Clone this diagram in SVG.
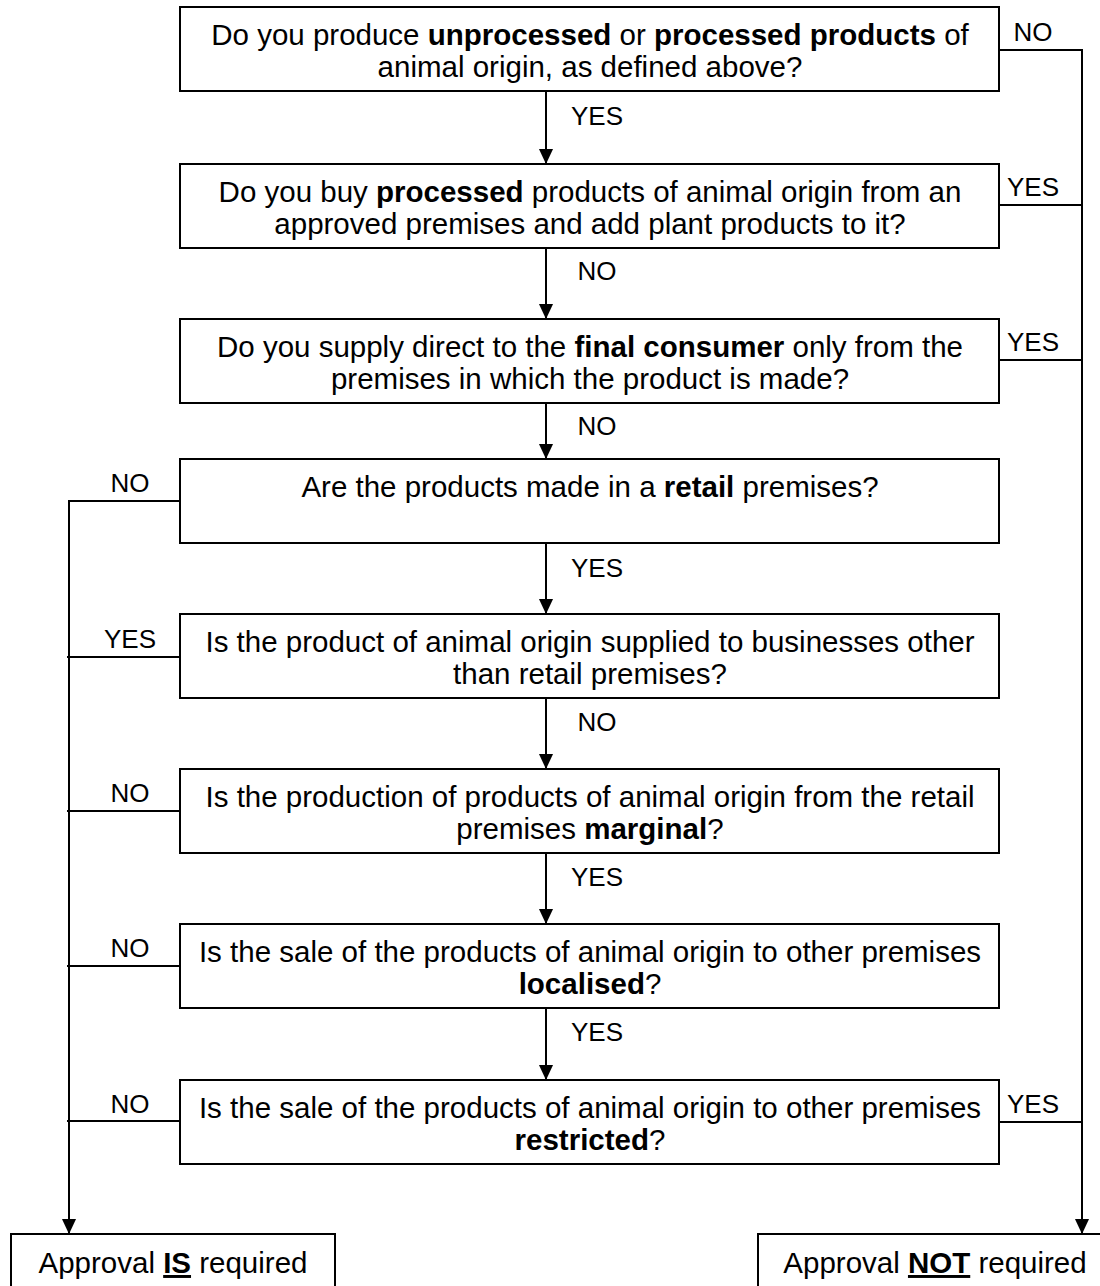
<svg xmlns="http://www.w3.org/2000/svg" width="1100" height="1286" viewBox="0 0 1100 1286">
<defs>
<style>
.box{fill:#fff;stroke:#000;stroke-width:2}
.t{font-family:"Liberation Sans",Arial,sans-serif;font-size:29.5px;fill:#000;text-anchor:middle}
.lb{font-family:"Liberation Sans",Arial,sans-serif;font-size:26px;fill:#000;text-anchor:middle}
.b{font-weight:bold}
.u{font-weight:bold;text-decoration:underline}
.c{stroke:#000;stroke-width:2;fill:none}
</style>
<marker id="ah" markerWidth="15" markerHeight="16" refX="16" refY="7.5" orient="auto" markerUnits="userSpaceOnUse" viewBox="0 0 16 15">
<path d="M0,0 L16,7.5 L0,15 Z" fill="#000"/>
</marker>
</defs>
<rect width="1100" height="1286" fill="#fff"/>

<g id="connectors">
<line class="c" x1="546" y1="91" x2="546" y2="164" marker-end="url(#ah)"/>
<line class="c" x1="546" y1="248" x2="546" y2="319" marker-end="url(#ah)"/>
<line class="c" x1="546" y1="403" x2="546" y2="459" marker-end="url(#ah)"/>
<line class="c" x1="546" y1="543" x2="546" y2="614" marker-end="url(#ah)"/>
<line class="c" x1="546" y1="698" x2="546" y2="769" marker-end="url(#ah)"/>
<line class="c" x1="546" y1="853" x2="546" y2="924" marker-end="url(#ah)"/>
<line class="c" x1="546" y1="1008" x2="546" y2="1080" marker-end="url(#ah)"/>
<polyline class="c" points="999,50 1082,50 1082,1234" marker-end="url(#ah)"/>
<line class="c" x1="999" y1="205" x2="1082" y2="205"/>
<line class="c" x1="999" y1="360" x2="1082" y2="360"/>
<line class="c" x1="999" y1="1122" x2="1082" y2="1122"/>
<polyline class="c" points="180,501 69,501 69,1234" marker-end="url(#ah)"/>
<line class="c" x1="67" y1="657" x2="180" y2="657"/>
<line class="c" x1="67" y1="811" x2="180" y2="811"/>
<line class="c" x1="67" y1="966" x2="180" y2="966"/>
<line class="c" x1="67" y1="1121" x2="180" y2="1121"/>
<text class="lb" x="597" y="125">YES</text>
<text class="lb" x="597" y="280">NO</text>
<text class="lb" x="597" y="435">NO</text>
<text class="lb" x="597" y="577">YES</text>
<text class="lb" x="597" y="731">NO</text>
<text class="lb" x="597" y="886">YES</text>
<text class="lb" x="597" y="1041">YES</text>
<text class="lb" x="1033" y="41">NO</text>
<text class="lb" x="1033" y="196">YES</text>
<text class="lb" x="1033" y="351">YES</text>
<text class="lb" x="1033" y="1113">YES</text>
<text class="lb" x="130" y="492">NO</text>
<text class="lb" x="130" y="648">YES</text>
<text class="lb" x="130" y="802">NO</text>
<text class="lb" x="130" y="957">NO</text>
<text class="lb" x="130" y="1113">NO</text>
</g>

<g id="q1">
<rect class="box" x="180" y="7" width="819" height="84"/>
<text class="t" x="590" y="45">Do you produce <tspan class="b">unprocessed</tspan> or <tspan class="b">processed products</tspan> of</text>
<text class="t" x="590" y="77">animal origin, as defined above?</text>
</g>
<g id="q2">
<rect class="box" x="180" y="164" width="819" height="84"/>
<text class="t" x="590" y="202">Do you buy <tspan class="b">processed</tspan> products of animal origin from an</text>
<text class="t" x="590" y="234">approved premises and add plant products to it?</text>
</g>
<g id="q3">
<rect class="box" x="180" y="319" width="819" height="84"/>
<text class="t" x="590" y="357">Do you supply direct to the <tspan class="b">final consumer</tspan> only from the</text>
<text class="t" x="590" y="389">premises in which the product is made?</text>
</g>
<g id="q4">
<rect class="box" x="180" y="459" width="819" height="84"/>
<text class="t" x="590" y="497">Are the products made in a <tspan class="b">retail</tspan> premises?</text>
</g>
<g id="q5">
<rect class="box" x="180" y="614" width="819" height="84"/>
<text class="t" x="590" y="652">Is the product of animal origin supplied to businesses other</text>
<text class="t" x="590" y="684">than retail premises?</text>
</g>
<g id="q6">
<rect class="box" x="180" y="769" width="819" height="84"/>
<text class="t" x="590" y="807">Is the production of products of animal origin from the retail</text>
<text class="t" x="590" y="839">premises <tspan class="b">marginal</tspan>?</text>
</g>
<g id="q7">
<rect class="box" x="180" y="924" width="819" height="84"/>
<text class="t" x="590" y="962">Is the sale of the products of animal origin to other premises</text>
<text class="t" x="590" y="994"><tspan class="b">localised</tspan>?</text>
</g>
<g id="q8">
<rect class="box" x="180" y="1080" width="819" height="84"/>
<text class="t" x="590" y="1118">Is the sale of the products of animal origin to other premises</text>
<text class="t" x="590" y="1150"><tspan class="b">restricted</tspan>?</text>
</g>
<g id="approval-is">
<rect class="box" x="11" y="1234" width="324" height="70"/>
<text class="t" x="173" y="1273">Approval <tspan class="u">IS</tspan> required</text>
</g>
<g id="approval-not">
<rect class="box" x="758" y="1234" width="360" height="70"/>
<text class="t" x="935" y="1273">Approval <tspan class="u">NOT</tspan> required</text>
</g>
</svg>
